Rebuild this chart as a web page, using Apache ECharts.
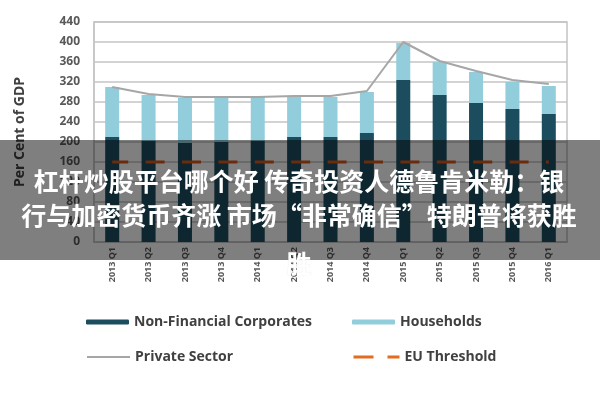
<!DOCTYPE html>
<html>
<head>
<meta charset="utf-8">
<script src="https://cdn.jsdelivr.net/npm/echarts@6/dist/echarts.min.js"></script>
<style>html,body{margin:0;padding:0;background:#fff;}#c{width:600px;height:400px;}</style>
</head>
<body>
<div id="c"></div>
<script>
const categories = ['2013 Q1','2013 Q2','2013 Q3','2013 Q4','2014 Q1','2014 Q2','2014 Q3','2014 Q4','2015 Q1','2015 Q2','2015 Q3','2015 Q4','2016 Q1'];
const nonFinancial = [210,202,198,200,202,210,210,218,324,294,278,266,256];
const households = [100,92,90,90,88,82,80,82,74,66,62,54,56];
const privateSector = [310,296,290,290,290,292,292,302,400,362,342,324,316];
const euThreshold = [160,160,160,160,160,160,160,160,160,160,160,160,160];
const yTicks = [0,40,80,120,160,200,240,280,320,360,400,440];
const bannerLines = ['杠杆炒股平台哪个好 传奇投资人德鲁肯米勒：银','行与加密货币齐涨 市场“非常确信”特朗普将获胜','胜'];

const chart = echarts.init(document.getElementById('c'));
const legendText = {fontFamily:'Open Sans', fontSize:14, fontWeight:'bold', color:'#404040'};
const common = {padding:0, itemWidth:43, itemHeight:5, itemGap:7, textStyle:legendText, selectedMode:false};
chart.setOption({
  animation:false,
  grid:{left:94, right:33, top:22, bottom:158, show:true, borderColor:'#c4c4c4', borderWidth:1.5},
  xAxis:{type:'category', data:categories, boundaryGap:true,
    axisLine:{lineStyle:{color:'#c4c4c4', width:1.5}}, axisTick:{show:false},
    axisLabel:{rotate:90, fontSize:9, fontWeight:'bold', fontFamily:'Open Sans', color:'#5a5a5a', margin:5}},
  yAxis:{type:'value', min:yTicks[0], max:yTicks[yTicks.length-1], interval:40,
    name:'Per Cent of GDP', nameLocation:'middle', nameGap:67, nameRotate:90,
    nameTextStyle:{fontFamily:'Open Sans', fontSize:14, color:'#404040', fontWeight:'bold'},
    axisLine:{show:true, lineStyle:{color:'#c4c4c4', width:1.5}}, axisTick:{show:false},
    axisLabel:{fontSize:12, fontFamily:'Open Sans', fontWeight:'bold', color:'#595959', margin:14},
    splitLine:{lineStyle:{color:'#c4c4c4', width:1.5}}},
  legend:[
    Object.assign({data:['Non-Financial Corporates'], left:86, top:315}, common),
    Object.assign({data:['Households'], left:352, top:315}, common),
    Object.assign({data:[{name:'Private Sector', itemStyle:{color:'rgba(0,0,0,0)', borderWidth:0, opacity:0}, lineStyle:{width:2, color:'#a6a6a6'}}], left:86, top:350}, common),
    Object.assign({}, common, {data:[{name:'EU Threshold', itemStyle:{color:'rgba(0,0,0,0)', borderWidth:0, opacity:0}, lineStyle:{type:[20,14], dashOffset:0, width:3, color:'#e46c1e'}}], left:352, top:350, itemWidth:46, itemGap:4})
  ],
  series:[
    {name:'Non-Financial Corporates', type:'bar', stack:'s', data:nonFinancial, barWidth:14, itemStyle:{color:'#1b4d5e'}},
    {name:'Households', type:'bar', stack:'s', data:households, barWidth:14, itemStyle:{color:'#92cddc'}},
    {name:'Private Sector', type:'line', data:privateSector, symbol:'none', lineStyle:{color:'#a6a6a6', width:2}, itemStyle:{color:'#a6a6a6'}, z:5},
    {name:'EU Threshold', type:'line', data:euThreshold, symbol:'none', lineStyle:{color:'#d6581c', width:3, type:[19,17.4], dashOffset:3}, itemStyle:{color:'#e46c1e'}, z:6}
  ],
  graphic:[
    {type:'rect', z:100, shape:{x:0, y:140, width:600, height:120}, style:{fill:'rgba(0,0,0,0.5)'}},
    {type:'text', z:101, x:299, y:181, style:{text:bannerLines[0], fill:'#fff', font:'bold 25px "Noto Sans CJK SC"', align:'center', verticalAlign:'middle'}},
    {type:'text', z:101, x:299, y:215, style:{text:bannerLines[1], fill:'#fff', font:'bold 25px "Noto Sans CJK SC"', align:'center', verticalAlign:'middle'}},
    {type:'text', z:101, x:299, y:263, style:{text:bannerLines[2], fill:'#fff', font:'bold 25px "Noto Sans CJK SC"', align:'center', verticalAlign:'middle', textShadowColor:'rgba(0,0,0,0.15)', textShadowBlur:1}}
  ]
});
</script>
</body>
</html>
